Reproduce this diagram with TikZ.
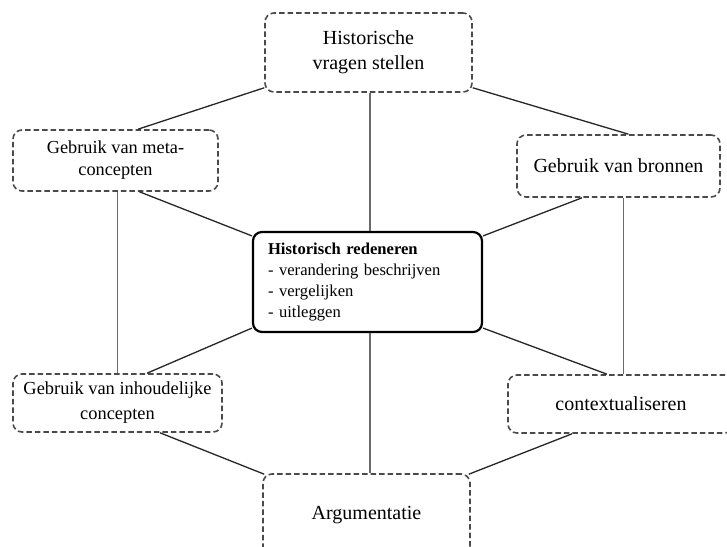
\documentclass[tikz,border=0pt]{standalone}
\usepackage{fontspec}
\setmainfont{Liberation Serif}
\usetikzlibrary{calc}
\definecolor{dashgray}{HTML}{4A4A4A}
\definecolor{linegray}{HTML}{6A6A6A}
\tikzset{
  dbox/.style={draw=dashgray, line width=1.6pt, dash pattern=on 5.5pt off 3pt, rounded corners=9pt, inner sep=0pt, align=center, text=black},
  cbox/.style={draw=black, line width=2.2pt, rounded corners=9pt, inner sep=0pt, align=left},
  diag/.style={draw=black!85, line width=1.3pt},
  vert/.style={draw=linegray, line width=1.2pt},
}
\begin{document}
\begin{tikzpicture}[x=1pt,y=-1pt]
\useasboundingbox (0,0) rectangle (727,546);
\fill[white] (0,0) rectangle (727,546);
\begin{scope}
\clip (0,0) rectangle (727,546);
% nodes
\node[dbox, minimum width=207pt, minimum height=79pt, font=\fontsize{20}{25}\selectfont] (top) at (368.5,52.5) {Historische\\vragen stellen};
\node[dbox, minimum width=205pt, minimum height=61pt, font=\fontsize{18.3}{22}\selectfont] (meta) at (115.5,160.5) {Gebruik van meta-\\concepten};
\node[dbox, minimum width=203pt, minimum height=62pt, font=\fontsize{20}{25}\selectfont] (bron) at (618.5,166) {\raisebox{-3pt}{Gebruik van bronnen}};
\node[cbox, minimum width=229pt, minimum height=100pt, text width=199pt, font=\fontsize{16.6}{20.7}\selectfont] (mid) at (367.5,282) {\textbf{Historisch redeneren}\\- verandering beschrijven\\- vergelijken\\- uitleggen};
\node[dbox, minimum width=209pt, minimum height=58pt, font=\fontsize{18.4}{25}\selectfont] (inh) at (117.5,403) {Gebruik van inhoudelijke\\concepten};
\node[dbox, minimum width=226pt, minimum height=58pt, font=\fontsize{20}{25}\selectfont] (ctx) at (621,404) {contextualiseren};
\node[dbox, minimum width=207pt, minimum height=82pt, font=\fontsize{20}{25}\selectfont] (arg) at (366.5,515) {\raisebox{-4pt}{Argumentatie}};
% helper coordinates
\coordinate (b1) at ([xshift=5pt]bron.south);
\coordinate (t1) at ([xshift=1.5pt]top.south);
\coordinate (m1) at ([xshift=2.5pt]mid.south);
% connectors
\draw[vert] (t1) -- (t1 |- mid.north);
\draw[vert] (m1) -- (m1 |- arg.north);
\draw[vert] (inh.north |- meta.south) -- (inh.north);
\draw[vert] (b1) -- (b1 |- ctx.north);
\draw[diag] ([yshift=5pt]top.south west) -- ([xshift=22.5pt]meta.north);
\draw[diag] ([yshift=5pt]top.south east) -- ([xshift=10pt]bron.north);
\draw[diag] ([xshift=24pt]meta.south) -- ([yshift=-5pt]mid.north west);
\draw[diag] ([xshift=-36.5pt]bron.south) -- ([yshift=-5pt]mid.north east);
\draw[diag] ([yshift=5pt]mid.south west) -- ([xshift=29.5pt]inh.north);
\draw[diag] ([yshift=5pt]mid.south east) -- ([xshift=-14pt]ctx.north);
\draw[diag] ([xshift=42.5pt]inh.south) -- ([xshift=2pt,yshift=-1pt]arg.north west);
\draw[diag] ([xshift=-49pt]ctx.south) -- ([xshift=-2pt,yshift=-1pt]arg.north east);
\end{scope}
\end{tikzpicture}
\end{document}
